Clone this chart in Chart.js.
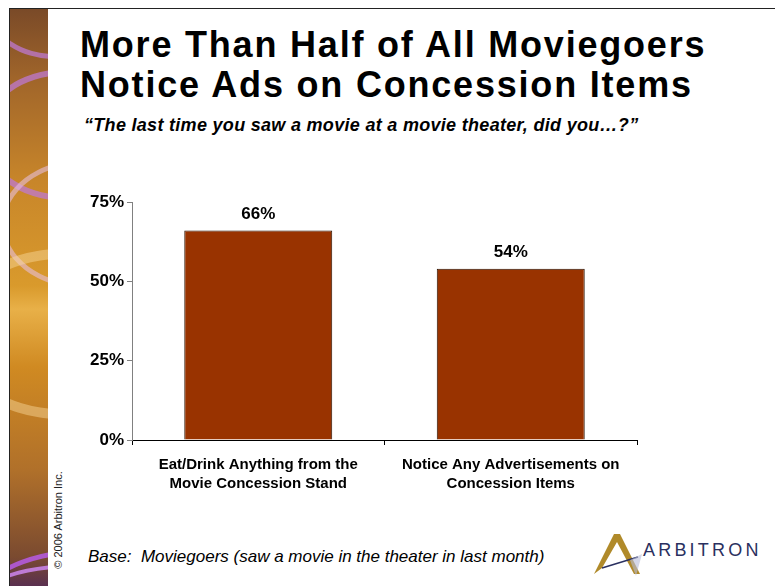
<!DOCTYPE html>
<html lang="en">
<head>
  <meta charset="UTF-8">
  <title>Moviegoers Notice Ads on Concession Items</title>
  <script src="https://cdn.jsdelivr.net/npm/chart.js"></script>
  <style>
    body { margin: 0; background: #fff; font-family: Arial, "Liberation Sans", sans-serif; }
    #slide { position: relative; width: 775px; height: 586px; overflow: hidden; background: #fff; }
    #frame { position: absolute; left: 9px; top: 8px; right: -2px; bottom: -2px; border-top: 1px solid #222; border-left: 1px solid #222; }
    #strip {
      position: absolute; left: 10px; top: 9px; width: 38px; bottom: 0; overflow: hidden;
      background: linear-gradient(to bottom, #7a4a28 0%, #a0652a 12%, #c8862a 30%, #d99a2c 48%, #e8b048 52%, #d08a22 62%, #b0702a 80%, #7a4a30 95%, #5a3050 100%);
    }
    .arc { position: absolute; border-radius: 50%; border-style: solid; border-color: rgba(190, 120, 210, 0.75); }
    #copy { position: absolute; left: 58px; top: 520px; font-size: 11px; color: #222; transform: translate(-50%, -50%) rotate(-90deg); white-space: nowrap; }
    #title { position: absolute; left: 80px; top: 25px; font-size: 36px; font-weight: bold; line-height: 40px; color: #000; letter-spacing: 1.8px; }
    #sub { position: absolute; left: 84px; top: 115px; font-size: 18px; font-weight: bold; font-style: italic; color: #000; letter-spacing: 0.3px; }
    #base { position: absolute; left: 88px; top: 547px; font-size: 17px; font-style: italic; color: #000; }
    #logo { position: absolute; left: 590px; top: 530px; width: 180px; height: 50px; }
    #logo span { position: absolute; left: 53px; top: 10px; font-size: 18px; color: #2a3060; letter-spacing: 3.2px; }
    canvas { position: absolute; left: 0; top: 0; }
  </style>
</head>
<body>
<div id="slide">
  <div id="strip">
    <div class="arc" style="left:-20px; top:-40px; width:120px; height:80px; border-width:5px;"></div>
    <div class="arc" style="left:-30px; top:60px; width:160px; height:120px; border-width:6px;"></div>
    <div class="arc" style="left:-10px; top:150px; width:160px; height:120px; border-width:5px; border-color: rgba(230,190,220,0.6);"></div>
    <div class="arc" style="left:-60px; top:240px; width:200px; height:150px; border-width:10px; border-color: rgba(250,220,160,0.45);"></div>
    <div class="arc" style="left:-40px; top:540px; width:220px; height:120px; border-width:5px; border-color: rgba(180,90,220,0.9);"></div>
    <div class="arc" style="left:-60px; top:555px; width:240px; height:120px; border-width:4px; border-color: rgba(200,130,230,0.9);"></div>
  </div>
  <div id="frame"></div>
  <div id="copy">© 2006 Arbitron Inc.</div>
  <div id="title">More Than Half of All Moviegoers<br>Notice Ads on Concession Items</div>
  <div id="sub">“The last time you saw a movie at a movie theater, did you…?”</div>
  <div id="base">Base:&nbsp; Moviegoers (saw a movie in the theater in last month)</div>
  <div id="logo">
    <svg width="60" height="50" style="position:absolute; left:0; top:0;">
      <polygon points="4,44 24,4 30,4 50,44 44,44 27,12 12,38" fill="#b08a2a"/>
      <line x1="12" y1="38" x2="48" y2="27" stroke="#2a3060" stroke-width="1.5"/>
      <polygon points="40,30 52,24 46,46" fill="#b8bcd8" opacity="0.6"/>
    </svg>
    <span>ARBITRON</span>
  </div>
  <canvas id="chart" width="775" height="586"></canvas>
</div>

<script>
// data
var categories = [
  ['Eat/Drink Anything from the', 'Movie Concession Stand'],
  ['Notice Any Advertisements on', 'Concession Items']
];
var values = [66, 54];
var yTicks = [0, 25, 50, 75];

// labels above bars
var valueLabels = {
  id: 'valueLabels',
  afterDatasetsDraw: function (chart) {
    var ctx = chart.ctx;
    var meta = chart.getDatasetMeta(0);
    ctx.save();
    ctx.font = 'bold 17px Arial, "Liberation Sans", sans-serif';
    ctx.fillStyle = '#000';
    ctx.textAlign = 'center';
    ctx.textBaseline = 'bottom';
    meta.data.forEach(function (bar, i) {
      ctx.fillText(values[i] + '%', bar.x, bar.y - 8);
    });
    ctx.restore();
  }
};

var ctx = document.getElementById('chart').getContext('2d');
new Chart(ctx, {
  type: 'bar',
  data: {
    labels: categories,
    datasets: [{
      data: values,
      backgroundColor: '#993300',
      borderColor: '#2a1200',
      borderWidth: 1,
      categoryPercentage: 1,
      barPercentage: 0.586
    }]
  },
  options: {
    responsive: false,
    animation: false,
    layout: { padding: { left: 70, right: 138, top: 202, bottom: 76 } },
    plugins: { legend: { display: false }, tooltip: { enabled: false } },
    scales: {
      x: {
        afterFit: function (s) { s.height = 70; },
        grid: { display: true, drawOnChartArea: false, offset: true, tickLength: 5, color: '#000' },
        border: { color: '#000', width: 1 },
        ticks: {
          color: '#000',
          font: { family: 'Arial, "Liberation Sans", sans-serif', size: 15, weight: 'bold', lineHeight: 1.27 },
          padding: 10,
          maxRotation: 0
        }
      },
      y: {
        min: 0,
        max: 75,
        afterFit: function (s) { s.width = 62; },
        afterBuildTicks: function (s) { s.ticks = yTicks.map(function (v) { return { value: v }; }); },
        grid: { display: true, drawOnChartArea: false, tickLength: 5, color: '#808080' },
        border: { color: '#808080', width: 1 },
        ticks: {
          color: '#000',
          font: { family: 'Arial, "Liberation Sans", sans-serif', size: 17, weight: 'bold' },
          padding: 3,
          callback: function (v) { return v + '%'; }
        }
      }
    }
  },
  plugins: [valueLabels]
});
</script>
</body>
</html>
